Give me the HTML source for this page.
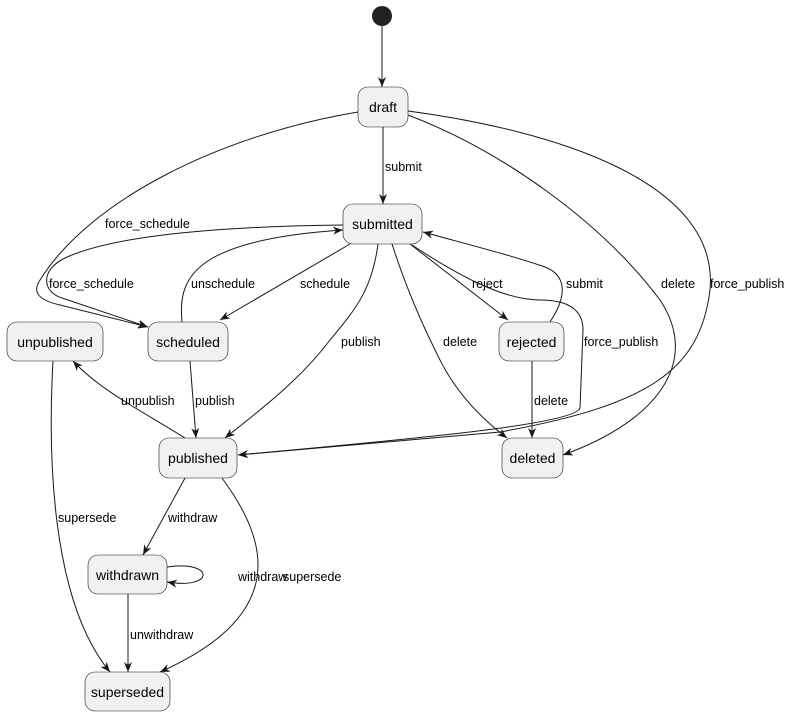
<!DOCTYPE html>
<html><head><meta charset="utf-8"><style>
html,body{margin:0;padding:0;background:#fff;}
svg{display:block;font-family:"Liberation Sans",sans-serif;}
.n{fill:#f1f1f1;stroke:#181818;stroke-width:0.6;}
.t{font-size:14px;fill:#000;text-anchor:middle;}
.l{font-size:12.5px;fill:#000;}
.e{fill:none;stroke:#181818;stroke-width:1;marker-end:url(#a);}
</style></head><body>
<svg width="803" height="717" viewBox="0 0 803 717">
<defs><marker id="a" markerWidth="12" markerHeight="10" refX="10" refY="4" orient="auto" markerUnits="userSpaceOnUse"><polygon points="0,0 10,4 0,8 3,4" fill="#181818"/></marker></defs>
<circle cx="382" cy="16" r="10" fill="#222"/>
<path class="e" d="M382,26 L382,87"/>
<path class="e" d="M383,127 L383,204"/>
<text class="l" x="385" y="171">submit</text>
<path class="e" d="M358,112 C220,135 90,200 40,280 C32,292 38,300 60,305 L148,327"/>
<text class="l" x="105" y="228">force_schedule</text>
<path class="e" d="M343,225 C250,226 120,232 65,258 C40,270 42,292 62,298 L148,327"/>
<text class="l" x="49" y="288">force_schedule</text>
<path class="e" d="M182,322 C178,280 190,240 343,230"/>
<text class="l" x="191" y="288">unschedule</text>
<path class="e" d="M350,244 L220,320"/>
<text class="l" x="300" y="288">schedule</text>
<path class="e" d="M378,244 C372,290 355,310 330,340 C300,380 260,410 225,438"/>
<text class="l" x="341" y="346">publish</text>
<path class="e" d="M392,244 C410,300 430,340 440,360 C460,400 490,425 507,438"/>
<text class="l" x="443" y="346">delete</text>
<path class="e" d="M410,244 L508,320"/>
<text class="l" x="472" y="288">reject</text>
<path class="e" d="M550,322 C568,295 566,275 545,267 C510,255 470,245 423,232"/>
<text class="l" x="566" y="288">submit</text>
<path class="e" d="M412,245 C450,270 500,300 540,300 C575,300 583,315 583,330 L580,408 C575,425 400,440 238,455"/>
<text class="l" x="584" y="346">force_publish</text>
<path class="e" d="M532,361 L532,438"/>
<text class="l" x="534" y="405">delete</text>
<path class="e" d="M408,115 C500,150 600,220 660,300 C700,360 660,420 563,455"/>
<text class="l" x="661" y="288">delete</text>
<path class="e" d="M408,111 C550,130 720,180 710,290 C700,370 650,405 500,432 L238,455"/>
<text class="l" x="710" y="288">force_publish</text>
<path class="e" d="M185,438 C140,410 100,390 73,361"/>
<text class="l" x="121" y="405">unpublish</text>
<path class="e" d="M190,361 L196,438"/>
<text class="l" x="195" y="405">publish</text>
<path class="e" d="M53,361 C48,450 50,600 110,672"/>
<text class="l" x="58" y="522">supersede</text>
<path class="e" d="M185,478 L143,555"/>
<text class="l" x="168" y="522">withdraw</text>
<path class="e" d="M222,478 C260,530 300,610 160,672"/>
<text class="l" x="283" y="581">supersede</text>
<path class="e" d="M167,567 C215,560 215,590 167,582"/>
<text class="l" x="238" y="581">withdraw</text>
<path class="e" d="M128,594 L128,672"/>
<text class="l" x="130" y="639">unwithdraw</text>
<rect class="n" x="358" y="87" width="50" height="40" rx="10"/><text class="t" x="383" y="112">draft</text>
<rect class="n" x="343" y="204" width="79" height="40" rx="10"/><text class="t" x="382.5" y="229">submitted</text>
<rect class="n" x="7" y="322" width="96" height="39" rx="10"/><text class="t" x="55" y="347">unpublished</text>
<rect class="n" x="148" y="322" width="80" height="39" rx="10"/><text class="t" x="188" y="347">scheduled</text>
<rect class="n" x="499" y="322" width="65" height="39" rx="10"/><text class="t" x="531.5" y="347">rejected</text>
<rect class="n" x="159" y="438" width="78" height="40" rx="10"/><text class="t" x="198" y="463">published</text>
<rect class="n" x="502" y="438" width="61" height="40" rx="10"/><text class="t" x="532.5" y="463">deleted</text>
<rect class="n" x="88" y="555" width="79" height="39" rx="10"/><text class="t" x="127.5" y="580">withdrawn</text>
<rect class="n" x="85" y="672" width="85" height="39" rx="10"/><text class="t" x="127.5" y="697">superseded</text>
</svg>
</body></html>
